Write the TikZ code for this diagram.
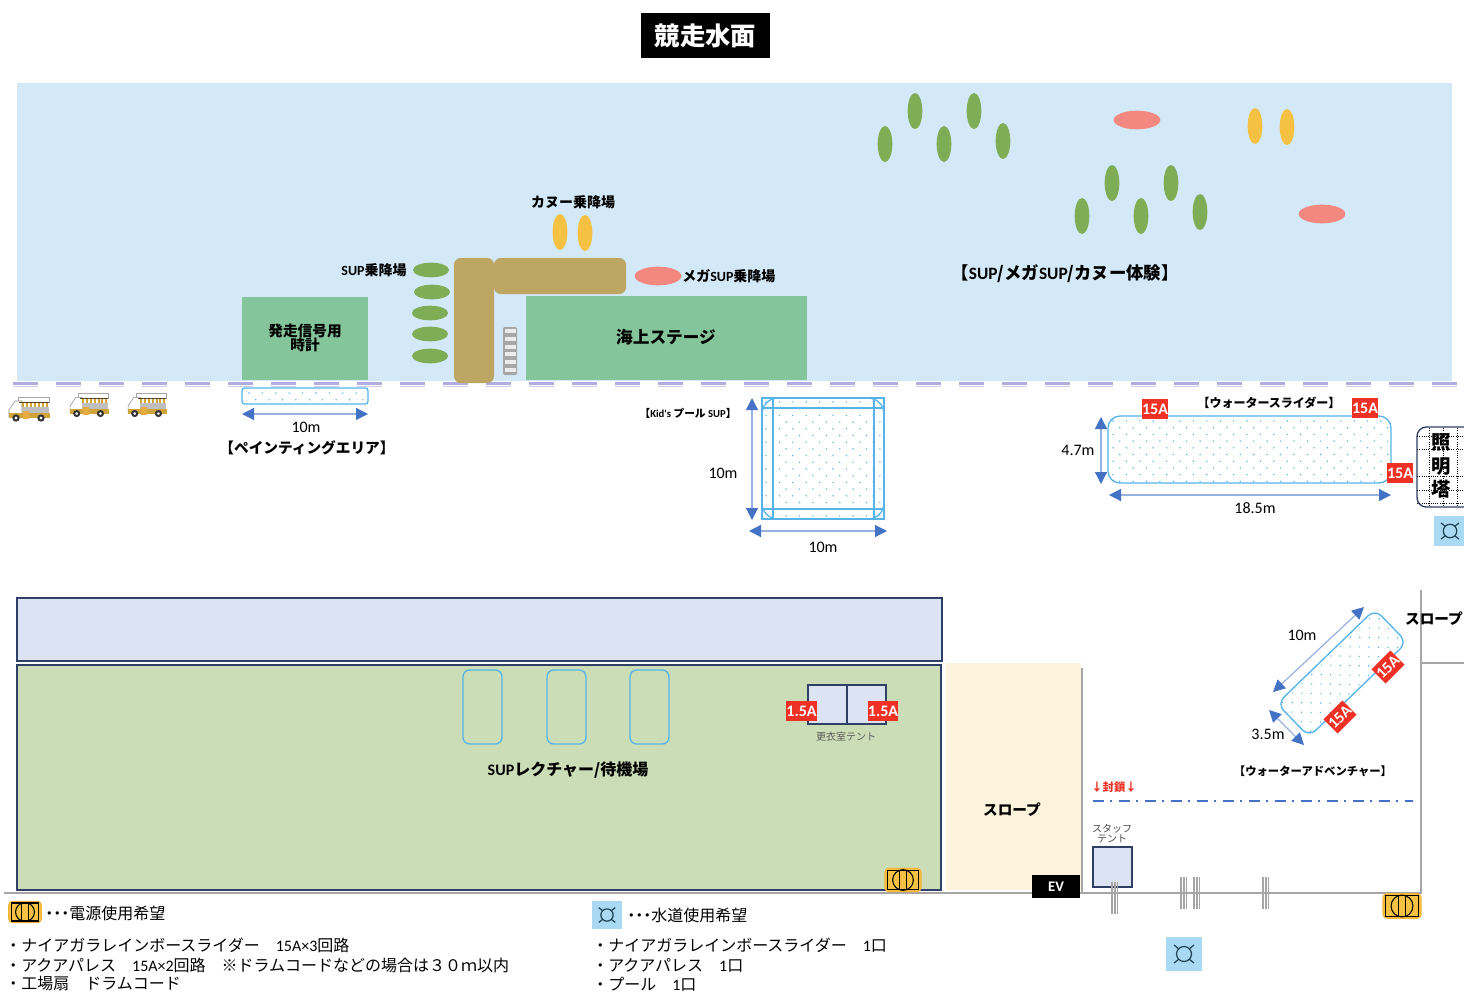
\documentclass[tikz,border=0pt]{standalone}
\usepackage{fontspec}
\setmainfont{Noto Sans CJK JP}
\newfontfamily\latinfont{Carlito}
\newfontfamily\propfont[RawFeature=+palt]{Noto Sans CJK JP}
\usetikzlibrary{arrows.meta,shapes.geometric}
\definecolor{waterblue}{HTML}{D3E9F7}
\definecolor{greenboat}{HTML}{7FAD55}
\definecolor{salmon}{HTML}{F28880}
\definecolor{canoe}{HTML}{F5C142}
\definecolor{pier}{HTML}{BDA664}
\definecolor{stage}{HTML}{85C59B}
\definecolor{poolblue}{HTML}{56B4E9}
\definecolor{dimblue}{HTML}{4472C4}
\definecolor{navy}{HTML}{2F3F66}
\definecolor{tentblue}{HTML}{DCE3F2}
\definecolor{lawn}{HTML}{CBDDB6}
\definecolor{cream}{HTML}{FDF3DC}
\definecolor{tagred}{HTML}{EE3124}
\definecolor{lavender}{HTML}{B0AEE0}
\definecolor{wall}{HTML}{A6A6A6}
\newcommand{\la}[1]{{\latinfont #1}}
% staggered dots: x, y, columns, rows
\newcommand{\dotarea}[4]{
	\foreach \r in {0,...,#4}
	\foreach \c in {0,...,#3}
	\fill[poolblue] ({#1+(\c+0.5*mod(\r,2))*13.4},{#2+\r*6.7}) circle (0.8);
}
\tikzset{
	boatv/.style={ellipse, fill=#1, draw=none, minimum width=11pt, minimum height=27pt, inner sep=0pt},
	boath/.style={ellipse, fill=greenboat, draw=none, minimum width=27pt, minimum height=11pt, inner sep=0pt},
	mega/.style={ellipse, fill=salmon, draw=none, minimum width=35pt, minimum height=14pt, inner sep=0pt},
	bold/.style={font=\bfseries\fontsize{#1}{#1}\selectfont, align=center, inner sep=0pt},
	bold/.default=11pt,
	plain/.style={font=\fontsize{#1}{#1}\selectfont, align=center, inner sep=0pt},
	dimtext/.style={font=\latinfont\fontsize{12pt}{12pt}\selectfont, inner sep=0pt},
	listtext/.style={font=\fontsize{12pt}{14pt}\selectfont, anchor=west, inner sep=0pt},
	tag/.style={fill=tagred, text=white, font=\latinfont\bfseries\fontsize{12pt}{12pt}\selectfont, minimum width=20pt, minimum height=15pt, inner sep=0pt},
	pool/.style={draw=poolblue, line width=1pt, rounded corners=7pt},
	dimline/.style={draw=dimblue!55, line width=.9pt, {Triangle[length=9pt,width=9pt,color=dimblue]}-{Triangle[length=9pt,width=9pt,color=dimblue]}},
	wallline/.style={draw=wall, line width=1.6pt},
	powericon/.pic={
		\draw[fill=canoe, draw=canoe!80!orange, line width=.8pt, rounded corners=3pt] (-20,-13) rectangle (20,13);
		\draw[black, line width=.8pt] (-17,-11) rectangle (17,11);
		\draw[black, line width=.8pt] (0,0) circle (11.5);
		\draw[black, line width=.8pt] (-4,-11) -- (-4,11) (4,-11) -- (4,11);
	},
	watericon/.pic={
		\fill[blue!0!cyan!0!white, fill=poolblue!50] (-18,-17) rectangle (18,17);
		\draw[black!40!poolblue!60!black, line width=.9pt] (0,0) circle (7.5);
		\draw[black!40!poolblue!60!black, line width=.9pt] (-10,-9) -- (-5,-5) (10,-9) -- (5,-5) (-10,9) -- (-5,5) (10,9) -- (5,5);
	},
	foodtruck/.pic={
		\fill[white, draw=black!35, line width=.3pt] (-12,-12) rectangle (19,-7);
		\fill[white, draw=black!45, line width=.4pt] (-21,8) -- (-21,1) -- (-15,-8) -- (-8,-8) -- (-8,8) -- cycle;
		\fill[black!25] (-8,-2) rectangle (19,8);
		\fill[canoe!85!black] (-21,4) rectangle (20,9);
		\foreach \s in {0,...,6}
		\fill[canoe!85!black] ({-8+\s*4},-7) rectangle ({-6+\s*4},-2);
		\fill[black!50!brown] (-11,-7) rectangle (19,-6.4);
		\fill[canoe!70!brown] (-7,2) rectangle (-1,10);
		\draw[black!80, fill=white, line width=1.5pt] (-14,9) circle (2.6);
		\draw[black!80, fill=white, line width=1.5pt] (11,9) circle (2.6);
	},
	stripepost/.pic={
		\foreach \s in {-3,-1.5,0,1.5,3}
		\draw[wall, line width=.35pt] (\s,-17) -- (\s,17);
	}
}
\begin{document}
\begin{tikzpicture}[x=0.75pt,y=-0.75pt]
	\clip (0,0) rectangle (1464,1007);
	\fill[white] (0,0) rectangle (1464,1007);

	% Title
	\node[fill=black, text=white, font=\bfseries\fontsize{19pt}{19pt}\selectfont, minimum width=97pt, minimum height=34pt, inner sep=0pt] (title) at (705.5,35.5) {競走水面};

	% Water surface
	\fill[waterblue] (17,83) rectangle (1452,381);

	% Shore line
	\draw[lavender, line width=2.2pt, dash pattern=on 18.7pt off 13.55pt] (13,383.5) -- (1462,383.5);
	\draw[lavender!60, line width=.8pt, dash pattern=on 18.7pt off 13.55pt] (13,386.5) -- (1462,386.5);

	% SUP experience boats
	\foreach \x/\y [count=\i] in {915/111,974/111,885/144,944/144,1003/141,1112/183,1171/183,1082/216,1141/216,1200/212}
	\node[boatv=greenboat] (expboat\i) at (\x,\y) {};
	\node[mega] (expmega1) at (1137,120) {};
	\node[mega] (expmega2) at (1322,214) {};
	\node[boatv=canoe] (expcanoe1) at (1255,126) {};
	\node[boatv=canoe] (expcanoe2) at (1287,127) {};
	\node[bold=13pt] (explabel) at (1065,274) {【\la{SUP}/メガ\la{SUP}/カヌー体験】};

	% Pier
	\fill[pier, rounded corners=5pt] (454,258) rectangle (494,383);
	\fill[pier, rounded corners=5pt] (494,258) rectangle (626,294);
	\fill[stage] (526,296) rectangle (807,380);
	\fill[stage] (242,297) rectangle (368,380);
	\node[bold=12.5pt] (stagelabel) at (666,337) {海上ステージ};
	\node[bold=11pt] (clocklabel) at (305,338) {発走信号用\\時計};

	% Stairs
	\fill[black!35, rounded corners=1pt] (503,327) rectangle (517,375);
	\foreach \s in {0,...,5}
	\fill[black!8] (504.5,{329+\s*7.8}) rectangle (515.5,{333+\s*7.8});

	% Landing places
	\foreach \y/\x [count=\i] in {270/431,292/432,313/430,334/430,356/430}
	\node[boath] (supboat\i) at (\x,\y) {};
	\node[boatv=canoe] (canoe1) at (560,232) {};
	\node[boatv=canoe] (canoe2) at (585,233) {};
	\node[mega] (megaboat) at (658,276) {};
	\node[bold=10.5pt] (canoelabel) at (573,202) {カヌー乗降場};
	\node[bold=10.5pt] (suplabel) at (374,270) {\la{SUP}乗降場};
	\node[bold=10.5pt, anchor=west] (megalabel) at (682,276) {メガ\la{SUP}乗降場};

	% Food trucks
	\pic at (30,409) {foodtruck};
	\pic[scale=.95] at (90,405) {foodtruck};
	\pic[scale=.95] at (148,405) {foodtruck};

	% Painting area
	\draw[pool, rounded corners=2pt] (242,388) rectangle (368,404);
	\dotarea{249}{393}{8}{1}
	\coordinate (paintl) at (242,414);
	\coordinate (paintr) at (368,414);
	\draw[dimline] (paintl) -- (paintr);
	\node[dimtext] (paintdim) at (306,427) {10m};
	\node[bold=11pt] (paintlabel) at (307,448) {【ペインティングエリア】};

	% Kid's pool
	\dotarea{766}{402}{8}{17}
	\draw[poolblue, line width=1pt] (762,398) rectangle (884,519);
	\draw[pool, rounded corners=12pt] (762,398) rectangle (884,519);
	\draw[poolblue, line width=1pt] (773,398) -- (773,519) (874,398) -- (874,519);
	\draw[poolblue, line width=1pt] (762,408) -- (884,408) (762,509) -- (884,509);
	\coordinate (kidt) at (752,398);
	\coordinate (kidb) at (752,520);
	\coordinate (kidl) at (749,531);
	\coordinate (kidr) at (887,531);
	\draw[dimline] (kidt) -- (kidb);
	\draw[dimline] (kidl) -- (kidr);
	\node[dimtext] (kiddimv) at (723,473) {10m};
	\node[dimtext] (kiddimh) at (823,547) {10m};
	\node[bold=8pt] (kidlabel) at (688,413) {【\la{Kid's} プール \la{SUP}】};

	% Water slider
	\dotarea{1113}{421}{20}{9}
	\draw[pool, rounded corners=9pt] (1108,416) rectangle (1391,483);
	\node[tag] (slidetag1) at (1155,409) {15A};
	\node[tag] (slidetag2) at (1365,408) {15A};
	\node[tag] (slidetag3) at (1400,473) {15A};
	\coordinate (slidet) at (1101,417);
	\coordinate (slideb) at (1101,484);
	\coordinate (slidel) at (1109,495);
	\coordinate (slider) at (1391,495);
	\draw[dimline] (slidet) -- (slideb);
	\draw[dimline] (slidel) -- (slider);
	\node[dimtext] (slidedimv) at (1078,450) {4.7m};
	\node[dimtext] (slidedimh) at (1255,508) {18.5m};
	\node[bold=9pt] (slidelabel) at (1269,403) {【ウォータースライダー】};

	% Light tower
	\draw[navy, line width=1pt, rounded corners=7pt] (1417,427) rectangle (1480,507);
	\draw[black, densely dotted, line width=.7pt] (1417,436) -- (1464,436) (1417,449) -- (1464,449) (1417,476) -- (1464,476) (1417,490) -- (1464,490) (1417,503) -- (1464,503);
	\draw[black, densely dotted, line width=.7pt] (1429,428) -- (1429,506) (1443,428) -- (1443,506) (1457,428) -- (1457,506);
	\node[bold=14.5pt] (towerlabel) at (1441,466) {照\\[3pt]明\\[3pt]塔};
	\pic[scale=.9] at (1450,531) {watericon};

	% Stand and lawn
	\draw[navy, fill=tentblue, line width=1pt] (17,598) rectangle (942,661);
	\draw[navy, fill=lawn, line width=1pt] (17,665) rectangle (941,890);
	\foreach \x in {463,547,630}
	\draw[pool, rounded corners=5pt] (\x,670) rectangle ++(39,74);
	\node[bold=12pt] (lecturelabel) at (568,770) {\la{SUP}レクチャー/待機場};

	% Changing tent
	\draw[navy, fill=tentblue, line width=1pt] (808,685) rectangle (886,724);
	\draw[navy, line width=1pt] (847,685) -- (847,724);
	\node[tag, minimum width=23pt] (tenttag1) at (801.5,711) {1.5A};
	\node[tag, minimum width=23pt] (tenttag2) at (883,711) {1.5A};
	\node[plain=7.5pt, text=black!65] (tentlabel) at (846,737) {更衣室テント};

	% Slope
	\fill[cream] (946,663) rectangle (1081,890);
	\node[bold=11pt] (slopelabel) at (1012,810) {スロープ};

	% Walls
	\draw[wallline] (4,893) -- (1421,893) -- (1421,590);
	\draw[wallline] (1082,668) -- (1082,893);
	\draw[wallline] (1421,663) -- (1464,663);
	\node[fill=black, text=white, font=\latinfont\bfseries\fontsize{11pt}{11pt}\selectfont, minimum width=36pt, minimum height=17pt, inner sep=0pt] (evlabel) at (1056,886.5) {EV};
	\node[bold=11pt, fill=none] (slopelabel2) at (1434,619) {スロープ};
	\pic[scale=.9] at (903,880) {powericon};

	% Water adventure
	\begin{scope}[shift={(1342,673)},rotate=44]
		\dotarea{-63}{-20}{9}{6}
		\draw[pool] (-68,-23) rectangle (68,23);
	\end{scope}
	\node[tag, rotate=45] (advtag1) at (1340,717) {15A};
	\node[tag, rotate=45] (advtag2) at (1388,667) {15A};
	\coordinate (advlongb) at (1273,692);
	\coordinate (advlongt) at (1364,607);
	\coordinate (advshorta) at (1269,710);
	\coordinate (advshortb) at (1304,745);
	\draw[dimline] (advlongb) -- (advlongt);
	\draw[dimline] (advshorta) -- (advshortb);
	\node[dimtext] (advdiml) at (1302,635) {10m};
	\node[dimtext] (advdimw) at (1268,734) {3.5m};
	\node[bold=8.5pt] (advlabel) at (1313,771) {【ウォーターアドベンチャー】};

	% Closed off line
	\node[bold=8.5pt, text=tagred] (closedlabel) at (1114,787) {↓封鎖↓};
	\coordinate (closedl) at (1093,801);
	\coordinate (closedr) at (1413,801);
	\draw[dimblue, line width=1.3pt, dash pattern=on 8pt off 5pt on 1.5pt off 5pt] (closedl) -- (closedr);

	% Staff tent
	\node[plain=7.5pt, text=black!70] (stafflabel) at (1112,834) {スタッフ\\テント};
	\draw[navy, fill=tentblue, line width=1pt] (1093,847) rectangle (1132,887);
	\foreach \x/\y in {1114/898,1183/893,1196/893,1265/893}
	\pic[yscale=.95] at (\x,\y) {stripepost};
	\pic[scale=.95] at (1402,906) {powericon};
	\pic at (1184,954) {watericon};

	% Legend for power
	\pic[scale=.82] at (25,912) {powericon};
	\node[listtext] (powerlegend) at (45,913) {{\propfont ・・・}電源使用希望};
	\node[listtext] (powerlist1) at (5,945) {・ナイアガラレインボースライダー　\la{15A×3}回路};
	\node[listtext] (powerlist2) at (5,965) {・アクアパレス　\la{15A×2}回路　※ドラムコードなどの場合は３０ｍ以内};
	\node[listtext] (powerlist3) at (5,984) {・工場扇　ドラムコード};

	% Legend for water
	\pic[scale=.82] at (607,915) {watericon};
	\node[listtext] (waterlegend) at (627,915) {{\propfont ・・・}水道使用希望};
	\node[listtext] (waterlist1) at (592,945) {・ナイアガラレインボースライダー　\la{1}口};
	\node[listtext] (waterlist2) at (592,965) {・アクアパレス　\la{1}口};
	\node[listtext] (waterlist3) at (592,984) {・プール　\la{1}口};
\end{tikzpicture}
\end{document}
